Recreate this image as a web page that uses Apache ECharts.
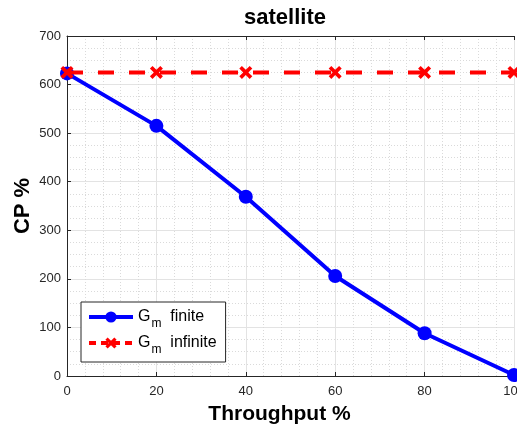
<!DOCTYPE html>
<html><head><meta charset="utf-8">
<script src="https://cdn.jsdelivr.net/npm/echarts@6/dist/echarts.min.js"></script>
<style>html,body{margin:0;padding:0;background:#fff}#c{width:517px;height:431px}</style>
</head><body><div id="c"></div>
<script>
const throughput = [0, 20, 40, 60, 80, 100];
const cpFinite = [623, 515, 369, 206, 88, 2];
const cpInfinite = [625, 625, 625, 625, 625, 625];
const seriesNames = ['finite', 'infinite'];
const titleText = 'satellite';
const xName = 'Throughput %';
const yName = 'CP %';

const FONT = 'Liberation Sans, Arial, Helvetica, sans-serif';
const AX = '#262626';
const xPath = 'path://M0,4 L4,0 L10,6 L16,0 L20,4 L14,10 L20,16 L16,20 L10,14 L4,20 L0,16 L6,10 Z';

const chart = echarts.init(document.getElementById('c'));
chart.setOption({
  animation: false,
  backgroundColor: '#fff',
  title: {text: titleText, left: 280, textAlign: 'center', top: 2,
    textStyle: {fontFamily: FONT, fontSize: 22, fontWeight: 'bold', color: '#000'}},
  grid: {left: 67, right: 3, top: 36, bottom: 55, outerBoundsMode: 'none', containLabel: false},
  legend: {
    orient: 'vertical', left: 81, top: 302,
    padding: [7, 9, 6, 6], itemGap: 5, itemWidth: 44, itemHeight: 14,
    borderColor: AX, borderWidth: 1, backgroundColor: '#fff',
    data: [
      {name: seriesNames[0], lineStyle: {width: 4}},
      {name: seriesNames[1], lineStyle: {width: 4, type: [7, 5]}}
    ],
    formatter: n => '{g|G}{s|m}{t|  ' + n + '}',
    textStyle: {fontFamily: FONT, color: '#000', rich: {
      g: {fontSize: 16, fontFamily: FONT, color: '#000'},
      s: {fontSize: 12, fontFamily: FONT, color: '#000', padding: [14, 0, 0, 1]},
      t: {fontSize: 16, fontFamily: FONT, color: '#000'}
    }}
  },
  xAxis: [{
    type: 'value', min: 0, max: 100, interval: 20,
    name: xName, nameLocation: 'middle', nameGap: 28, nameMoveOverlap: false,
    nameTextStyle: {fontFamily: FONT, fontSize: 21, fontWeight: 'bold', color: '#000', padding: [0, 22, 0, 0]},
    axisLine: {lineStyle: {color: AX, width: 1}},
    axisTick: {inside: true, length: 4, lineStyle: {color: AX}},
    axisLabel: {fontFamily: FONT, fontSize: 13, color: AX, margin: 9},
    splitLine: {show: true, lineStyle: {color: '#e3e3e3', width: 1}},
    minorTick: {show: false, splitNumber: 5},
    minorSplitLine: {show: true, lineStyle: {color: '#dadada', type: [1, 2], width: 1}}
  }, {
    type: 'value', min: 0, max: 100, interval: 20, position: 'top',
    axisLine: {show: true, onZero: false, lineStyle: {color: AX, width: 1}},
    axisTick: {show: true, inside: true, length: 4, lineStyle: {color: AX}},
    axisLabel: {show: false}, splitLine: {show: false}
  }],
  yAxis: {
    type: 'value', min: 0, max: 700, interval: 100,
    name: yName, nameLocation: 'middle', nameGap: 33, nameRotate: 90, nameMoveOverlap: false,
    nameTextStyle: {fontFamily: FONT, fontSize: 22, fontWeight: 'bold', color: '#000'},
    axisLine: {show: true, lineStyle: {color: AX, width: 1}},
    axisTick: {show: true, inside: true, length: 4, lineStyle: {color: AX}},
    axisLabel: {fontFamily: FONT, fontSize: 13, color: AX, margin: 6},
    splitLine: {show: true, lineStyle: {color: '#e3e3e3', width: 1}},
    minorTick: {show: false, splitNumber: 4},
    minorSplitLine: {show: true, lineStyle: {color: '#dadada', type: [1, 2], width: 1}}
  },
  series: [{
    name: seriesNames[0], type: 'line',
    data: throughput.map((x, i) => [x, cpFinite[i]]),
    lineStyle: {color: '#0000ff', width: 4},
    itemStyle: {color: '#0000ff'},
    symbol: 'circle', symbolSize: 14, z: 3
  }, {
    name: seriesNames[1], type: 'line',
    data: throughput.map((x, i) => [x, cpInfinite[i]]),
    lineStyle: {color: '#ff0000', width: 4, type: [16, 15]},
    itemStyle: {color: '#ff0000'},
    symbol: xPath, symbolSize: 13, z: 4
  }]
});
</script></body></html>
